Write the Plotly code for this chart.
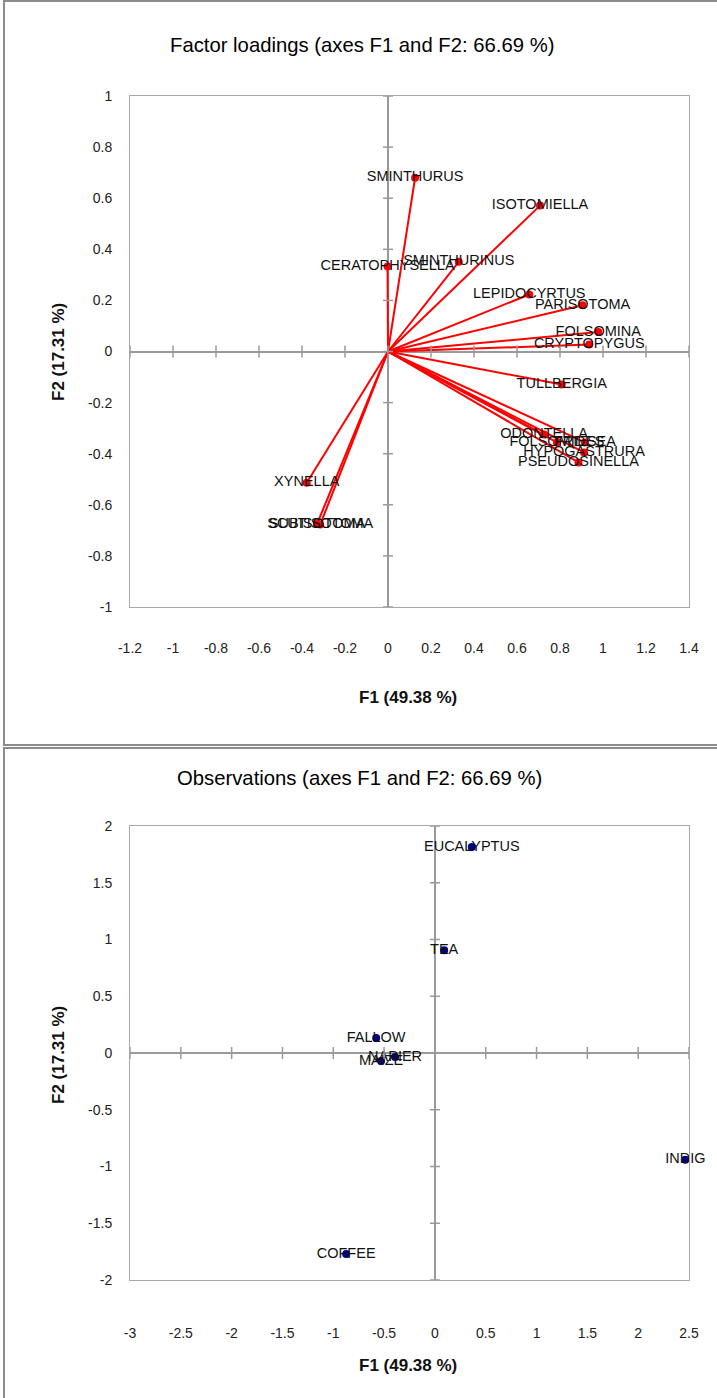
import plotly.graph_objects as go

# ---------------- data ----------------
var_names = ["SMINTHURUS", "ISOTOMIELLA", "CERATOPHYSELLA", "SMINTHURINUS",
             "LEPIDOCYRTUS", "PARISOTOMA", "FOLSOMINA", "CRYPTOPYGUS",
             "TULLBERGIA", "ODONTELLA", "FOLSOMIDES", "FRIESEA",
             "HYPOGASTRURA", "PSEUDOSINELLA", "XYNELLA", "SUBISOTOMA",
             "SCUTISOTOMA"]
load_f1 = [0.126, 0.707, -0.002, 0.329, 0.657, 0.905, 0.978, 0.936, 0.808,
           0.726, 0.786, 0.916, 0.912, 0.886, -0.378, -0.330, -0.315]
load_f2 = [0.680, 0.571, 0.333, 0.351, 0.223, 0.181, 0.076, 0.027, -0.129,
           -0.325, -0.356, -0.356, -0.395, -0.434, -0.514, -0.675, -0.677]

obs_names = ["EUCALYPTUS", "TEA", "FALLOW", "MAIZE", "NAPIER", "INDIG", "COFFEE"]
obs_f1 = [0.363, 0.091, -0.578, -0.530, -0.392, 2.464, -0.873]
obs_f2 = [1.815, 0.905, 0.132, -0.070, -0.035, -0.940, -1.770]

top_xticks = [-1.2, -1.0, -0.8, -0.6, -0.4, -0.2, 0.0, 0.2, 0.4, 0.6, 0.8, 1.0, 1.2, 1.4]
top_xlabels = ["-1.2", "-1", "-0.8", "-0.6", "-0.4", "-0.2", "0", "0.2", "0.4", "0.6", "0.8", "1", "1.2", "1.4"]
top_yticks = [-1.0, -0.8, -0.6, -0.4, -0.2, 0.0, 0.2, 0.4, 0.6, 0.8, 1.0]
top_ylabels = ["-1", "-0.8", "-0.6", "-0.4", "-0.2", "0", "0.2", "0.4", "0.6", "0.8", "1"]

bot_xticks = [-3.0, -2.5, -2.0, -1.5, -1.0, -0.5, 0.0, 0.5, 1.0, 1.5, 2.0, 2.5]
bot_xlabels = ["-3", "-2.5", "-2", "-1.5", "-1", "-0.5", "0", "0.5", "1", "1.5", "2", "2.5"]
bot_yticks = [-2.0, -1.5, -1.0, -0.5, 0.0, 0.5, 1.0, 1.5, 2.0]
bot_ylabels = ["-2", "-1.5", "-1", "-0.5", "0", "0.5", "1", "1.5", "2"]

title_top = "Factor loadings (axes F1 and F2: 66.69 %)"
title_bot = "Observations (axes F1 and F2: 66.69 %)"
xtitle = "F1 (49.38 %)"
ytitle = "F2 (17.31 %)"

# ---------------- figure ----------------
W, H = 717, 1398
FONT = "Liberation Sans, Arial, sans-serif"
GRAY = "#9a9a9a"

fig = go.Figure()

# loading vectors from origin
lx, ly = [], []
for a, b in zip(load_f1, load_f2):
    lx += [0, a, None]
    ly += [0, b, None]
fig.add_trace(go.Scatter(x=lx, y=ly, mode="lines", line=dict(color="#ff0000", width=2),
                         xaxis="x", yaxis="y", hoverinfo="skip", showlegend=False))
fig.add_trace(go.Scatter(x=load_f1, y=load_f2, mode="markers+text", text=var_names,
                         textposition="middle center", cliponaxis=False,
                         textfont=dict(family=FONT, size=14.5, color="#111111"),
                         marker=dict(color="#ff0000", size=8),
                         xaxis="x", yaxis="y", showlegend=False))

fig.add_trace(go.Scatter(x=obs_f1, y=obs_f2, mode="markers+text", text=obs_names,
                         textposition="middle center", cliponaxis=False,
                         textfont=dict(family=FONT, size=14.5, color="#111111"),
                         marker=dict(color="#000080", size=8),
                         xaxis="x2", yaxis="y2", showlegend=False))


def px_y(p):
    return 1 - p / H


tickfont = dict(family=FONT, size=14, color="#222222")
common = dict(showgrid=False, zeroline=True, zerolinecolor=GRAY, zerolinewidth=1.5,
              showline=True, mirror=True, linecolor="#a8a8a8", linewidth=1,
              ticks="", tickfont=tickfont, fixedrange=True, automargin=False)

fig.update_layout(
    width=W, height=H, margin=dict(l=0, r=0, t=0, b=0, pad=0, autoexpand=False),
    paper_bgcolor="white", plot_bgcolor="white", showlegend=False,
    xaxis=dict(domain=[130 / W, 689 / W], range=[-1.2, 1.4], tickvals=top_xticks,
               ticktext=top_xlabels, anchor="y", ticklabelstandoff=28, **common),
    yaxis=dict(domain=[px_y(607), px_y(96)], range=[-1, 1], tickvals=top_yticks,
               ticktext=top_ylabels, anchor="x", ticklabelstandoff=14, **common),
    xaxis2=dict(domain=[130 / W, 689 / W], range=[-3, 2.5], tickvals=bot_xticks,
                ticktext=bot_xlabels, anchor="y2", ticklabelstandoff=40, **common),
    yaxis2=dict(domain=[px_y(1280), px_y(826)], range=[-2, 2], tickvals=bot_yticks,
                ticktext=bot_ylabels, anchor="x2", ticklabelstandoff=14, **common),
)

shapes = []
# tick marks crossing the zero lines
for xr, yr, xt, yt in [("x", "y", top_xticks, top_yticks), ("x2", "y2", bot_xticks, bot_yticks)]:
    for t in xt:
        shapes.append(dict(type="line", xref=xr, yref=yr, x0=t, x1=t,
                           ysizemode="pixel", yanchor=0, y0=-6, y1=6,
                           line=dict(color=GRAY, width=1.5)))
    for t in yt:
        shapes.append(dict(type="line", xref=xr, yref=yr, y0=t, y1=t,
                           xsizemode="pixel", xanchor=0, x0=-5, x1=5,
                           line=dict(color=GRAY, width=1.5)))
# outer chart frames
shapes.append(dict(type="rect", xref="paper", yref="paper", x0=4 / W, x1=1.02,
                   y0=px_y(745), y1=px_y(1), line=dict(color="#8c8c8c", width=2)))
shapes.append(dict(type="rect", xref="paper", yref="paper", x0=4 / W, x1=1.02,
                   y0=-0.02, y1=px_y(748), line=dict(color="#8c8c8c", width=2)))
fig.update_layout(shapes=shapes)

ann = []
ann.append(dict(text=title_top, x=362 / W, y=px_y(45), xref="paper", yref="paper",
                showarrow=False, xanchor="center", yanchor="middle",
                font=dict(family=FONT, size=20.3, color="#000000")))
ann.append(dict(text=title_bot, x=359 / W, y=px_y(778), xref="paper", yref="paper",
                showarrow=False, xanchor="center", yanchor="middle",
                font=dict(family=FONT, size=20.3, color="#000000")))
for yy in (697, 1365):
    ann.append(dict(text="<b>" + xtitle + "</b>", x=408 / W, y=px_y(yy), xref="paper", yref="paper",
                    showarrow=False, xanchor="center", yanchor="middle",
                    font=dict(family=FONT, size=17, color="#111111")))
for yy in (352, 1055):
    ann.append(dict(text="<b>" + ytitle + "</b>", x=58 / W, y=px_y(yy), xref="paper", yref="paper",
                    showarrow=False, xanchor="center", yanchor="middle", textangle=-90,
                    font=dict(family=FONT, size=17, color="#111111")))
fig.update_layout(annotations=ann)

fig.write_html("out.html", config={"displayModeBar": False},
               post_script="document.body.style.margin='0';document.body.style.overflow='hidden';")
